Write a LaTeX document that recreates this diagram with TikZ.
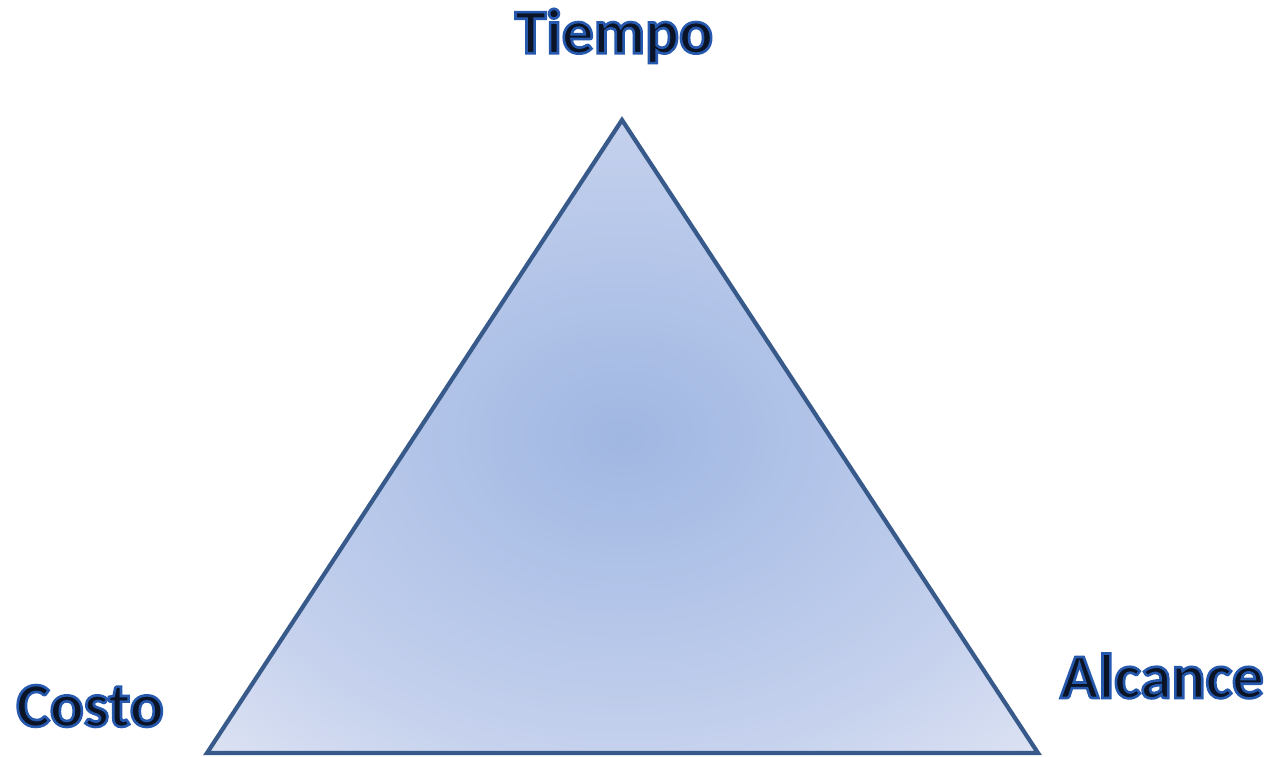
\documentclass[tikz,border=0pt]{standalone}
\usepackage{fontspec}
\setmainfont{Carlito}
\usepackage{tikz}
\usepackage{xcolor}
\definecolor{edgeblue}{RGB}{56,90,138}
\definecolor{inkblue}{RGB}{10,20,38}
\definecolor{glowA}{RGB}{160,183,226}
\definecolor{glowB}{RGB}{178,196,232}
\definecolor{glowC}{RGB}{197,209,237}
\definecolor{glowD}{RGB}{220,226,243}

% soft radial glow for the triangle
\pgfdeclareradialshading{triangleglow}{\pgfpoint{0bp}{0bp}}{%
  color(0bp)=(glowA); color(12.5bp)=(glowB); color(25bp)=(glowC); color(35.4bp)=(glowD); color(50bp)=(glowD)}

% bold text with a thin blue outline
\newcommand{\outlined}[1]{%
  \special{pdf:literal direct 2 Tr 0.75 w 0.15 0.35 0.68 RG}#1\special{pdf:literal direct 0 Tr}}

\begin{document}
\begin{tikzpicture}[
    label text/.style={font=\fontsize{18}{20}\selectfont\bfseries, text=inkblue, inner sep=0pt}
  ]

        % 1. Fix the canvas
        \useasboundingbox (0,0) rectangle (12.74,7.57);

        % 2. Corners of the triangle
        \coordinate (T) at (6.22, 6.37);  % Tiempo
        \coordinate (C) at (2.07, 0.04);  % Costo
        \coordinate (A) at (10.38, 0.04); % Alcance

        % 3. Shaded triangle with its outline
        \shade[shading=triangleglow] (T) -- (C) -- (A) -- cycle;
        \draw[edgeblue, line width=1.2pt, line join=miter] (T) -- (C) -- (A) -- cycle;

        % 4. Labels at the corners
        \node[label text] (tiempo) at (6.14, 7.21) {\outlined{Tiempo}};
        \node[label text] (costo) at (0.90, 0.51) {\outlined{Costo}};
        \node[label text] (alcance) at (11.62, 0.81) {\outlined{Alcance}};

    \end{tikzpicture}
\end{document}
